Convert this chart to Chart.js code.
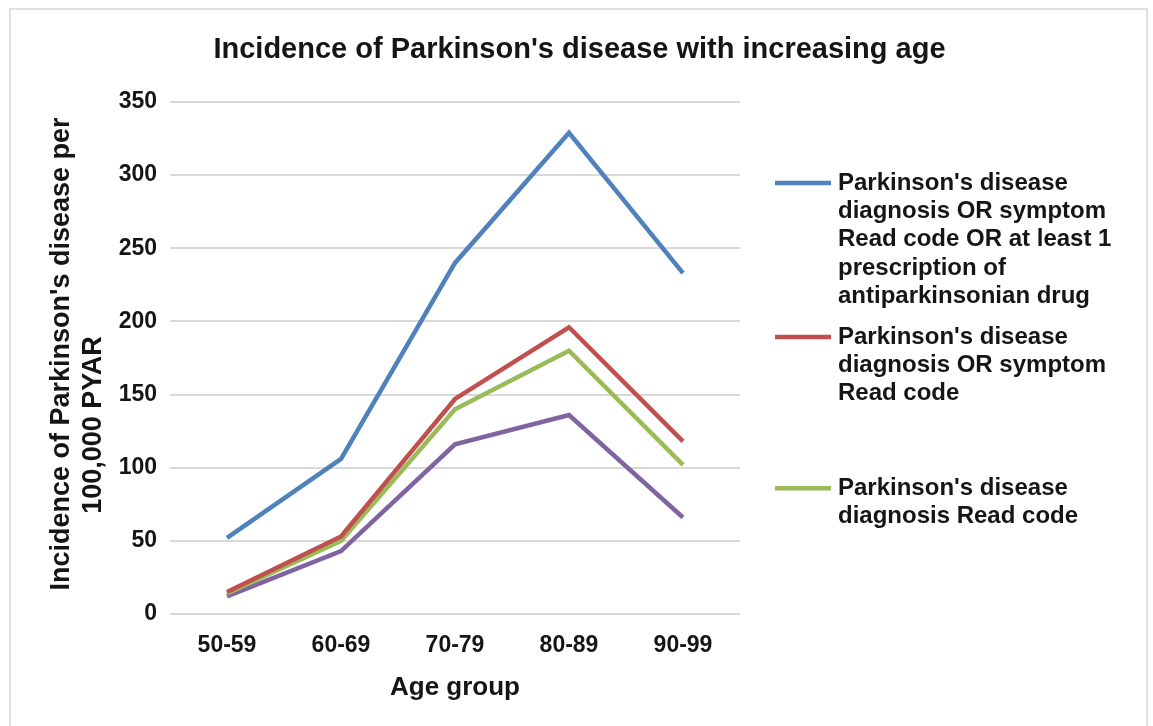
<!DOCTYPE html>
<html lang="en">

<head>
  <meta charset="utf-8">
  <title>Incidence of Parkinson's disease with increasing age</title>
  <script src="https://cdn.jsdelivr.net/npm/chart.js@4/dist/chart.umd.min.js"></script>
  <style>
    html, body { margin: 0; padding: 0; background: #fff; }
    #frame {
      position: absolute; left: 9px; top: 8px; width: 1139px; height: 730px;
      border: 2px solid #e0e0e0; box-sizing: border-box;
    }
    canvas { position: absolute; left: 0; top: 0; }
  </style>
</head>

<body>
  <div id="frame"></div>
  <canvas id="c" width="1153" height="726"></canvas>
  <script>
    // age bands on the x axis
    var ageGroups = ['50-59', '60-69', '70-79', '80-89', '90-99'];
    var yTicks = [0, 50, 100, 150, 200, 250, 300, 350];

    // incidence per 100,000 PYAR
    var diagSymptomOrDrug = [52, 106, 240, 329, 233];
    var diagOrSymptom = [15, 53, 147, 196, 118];
    var diagnosisOnly = [14, 50, 140, 180, 102];
    var fourthSeries = [12, 43, 116, 136, 66];

    // legend text, already wrapped the way it is shown
    var legendText = [
      ["Parkinson's disease", "diagnosis OR symptom", "Read code OR at least 1", "prescription of", "antiparkinsonian drug"],
      ["Parkinson's disease", "diagnosis OR symptom", "Read code"],
      ["Parkinson's disease", "diagnosis Read code"]
    ];

    var chartTitle = "Incidence of Parkinson's disease with increasing age";
    var yTitle = ["Incidence of Parkinson's disease per", "100,000 PYAR"];
    var xTitle = 'Age group';

    var FONT = '"Liberation Sans", Arial, sans-serif';
    var INK = '#151515';

    function line(label, data, color, legendIdx) {
      return {
        label: label, data: data, borderColor: color, backgroundColor: color,
        borderWidth: 4.5, pointRadius: 0, tension: 0, fill: false,
        borderJoinStyle: 'miter', legendIdx: legendIdx
      };
    }

    // title, rotated y title and the wrapped legend are drawn by hand
    var decor = {
      id: 'decor',
      afterDraw: function (chart) {
        var ctx = chart.ctx, a = chart.chartArea;
        ctx.save();
        ctx.fillStyle = INK;
        ctx.textAlign = 'center';
        ctx.textBaseline = 'middle';
        ctx.font = 'bold 29px ' + FONT;
        ctx.fillText(chartTitle, chart.width / 2 + 3, 50);

        var mid = (a.top + a.bottom) / 2;
        ctx.font = 'bold 27px ' + FONT;
        ctx.save();
        ctx.translate(a.left - 108, mid - 4);
        ctx.rotate(-Math.PI / 2);
        ctx.fillText(yTitle[0], 0, 0);
        ctx.restore();
        ctx.save();
        ctx.translate(a.left - 76, mid + 67);
        ctx.rotate(-Math.PI / 2);
        ctx.fillText(yTitle[1], 0, 0);
        ctx.restore();

        var x0 = a.right + 35, y = 183, lh = 28.4, gaps = [12, 66];
        ctx.textAlign = 'left';
        ctx.font = 'bold 24px ' + FONT;
        chart.data.datasets.forEach(function (ds) {
          if (ds.legendIdx === undefined) return;
          var lines = legendText[ds.legendIdx];
          ctx.strokeStyle = ds.borderColor;
          ctx.lineWidth = 4.5;
          ctx.beginPath();
          ctx.moveTo(x0, y);
          ctx.lineTo(x0 + 56, y);
          ctx.stroke();
          lines.forEach(function (t, i) {
            ctx.fillText(t, x0 + 63, y + i * lh);
          });
          y += lines.length * lh + gaps[ds.legendIdx];
        });
        ctx.restore();
      }
    };

    var ctx = document.getElementById('c');
    var cc = new Chart(ctx, {
      type: 'line',
      data: {
        labels: ageGroups,
        datasets: [
          line(legendText[0].join(' '), diagSymptomOrDrug, '#4f81bd', 0),
          line(legendText[1].join(' '), diagOrSymptom, '#c0504d', 1),
          line(legendText[2].join(' '), diagnosisOnly, '#9bbb59', 2),
          line('', fourthSeries, '#8064a2')
        ]
      },
      plugins: [decor],
      options: {
        responsive: false,
        animation: false,
        layout: { padding: { left: 119, right: 413, top: 102, bottom: 19 } },
        plugins: {
          legend: { display: false },
          title: { display: false },
          tooltip: { enabled: false }
        },
        scales: {
          x: {
            offset: true,
            grid: { display: false, drawTicks: false },
            border: { display: false },
            ticks: { color: INK, padding: 18, font: { family: FONT, size: 23, weight: 'bold' } },
            title: {
              display: true, text: xTitle, color: INK,
              padding: { top: 12, bottom: 4 },
              font: { family: FONT, size: 26, weight: 'bold' }
            },
            afterFit: function (s) { s.height = 93; }
          },
          y: {
            min: 0, max: 350,
            afterBuildTicks: function (s) { s.ticks = yTicks.map(function (v) { return { value: v }; }); },
            grid: { color: '#d9d9d9', lineWidth: 2, drawTicks: false },
            border: { display: false },
            ticks: { color: INK, padding: 13, font: { family: FONT, size: 23, weight: 'bold' } },
            afterFit: function (s) { s.width = 51; }
          }
        }
      }
    });
  </script>
</body>

</html>
